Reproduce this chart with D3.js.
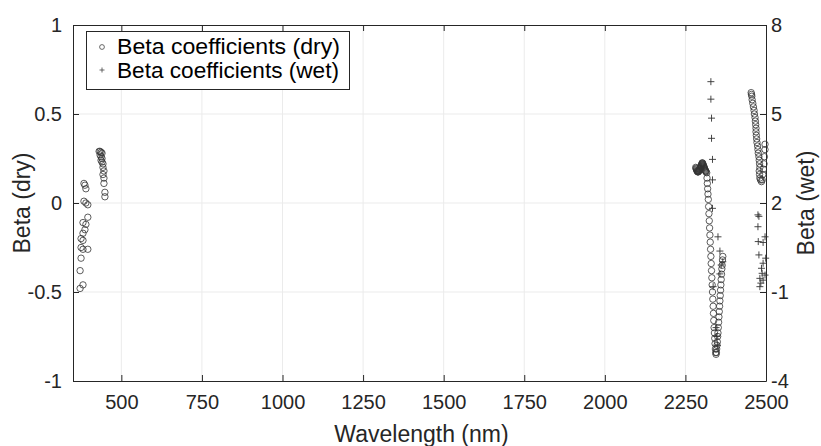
<!DOCTYPE html>
<html>
<head>
<meta charset="utf-8">
<script src="https://cdn.jsdelivr.net/npm/d3@7"></script>
<style>
  html, body { margin: 0; padding: 0; background: #fff; }
  svg { display: block; }
</style>
</head>
<body>
<svg id="chart" width="821" height="446"></svg>
<script>
// Beta coefficients by wavelength (dry samples, left axis)
const dryWavelength = [
  372, 381, 372, 375, 381, 396, 375, 381, 375, 381, 387, 390, 381, 396, 390, 396, 384, 387, 390, 384,
  431, 434, 437, 440, 434, 437, 440, 437, 440, 443, 443, 446, 443, 446, 446, 449, 449,
  2282, 2283, 2284, 2285, 2286, 2287, 2288, 2289, 2290, 2291, 2292, 2293, 2294, 2295, 2296, 2297,
  2298, 2299, 2300, 2301, 2302, 2303, 2304, 2305, 2306, 2307, 2308, 2309, 2310, 2311, 2312, 2313, 2314,
  2316, 2317, 2318, 2319, 2320, 2321, 2322, 2323, 2324, 2325, 2326, 2327, 2328, 2329, 2330, 2331,
  2332, 2333, 2334, 2335, 2336, 2337, 2338, 2339, 2340, 2341, 2342, 2343, 2344,
  2345, 2346, 2347, 2348, 2349, 2350, 2351, 2352, 2353, 2354, 2355, 2356, 2357, 2358, 2359, 2360,
  2361, 2362, 2363, 2364, 2365, 2366,
  2454, 2455, 2456, 2457, 2459, 2461, 2463, 2464, 2466, 2467, 2468, 2469, 2469, 2470, 2471, 2472,
  2474, 2475, 2476, 2478, 2479, 2480, 2481, 2479, 2480, 2481, 2483, 2486, 2488, 2490, 2492, 2494,
  2495, 2497, 2497
];
const dryBeta = [
  -0.48, -0.46, -0.38, -0.31, -0.26, -0.26, -0.25, -0.21, -0.20, -0.17, -0.15, -0.12, -0.11, -0.08, 0.00, -0.01, 0.01, 0.10, 0.08, 0.11,
  0.29, 0.29, 0.285, 0.28, 0.27, 0.26, 0.25, 0.24, 0.23, 0.22, 0.20, 0.18, 0.16, 0.14, 0.11, 0.06, 0.035,
  0.20, 0.195, 0.19, 0.185, 0.18, 0.18, 0.175, 0.175, 0.175, 0.18, 0.18, 0.185, 0.19, 0.19, 0.195, 0.20,
  0.205, 0.21, 0.215, 0.22, 0.225, 0.225, 0.22, 0.215, 0.21, 0.205, 0.20, 0.195, 0.19, 0.185, 0.18, 0.18, 0.175,
  0.17, 0.14, 0.11, 0.08, 0.05, 0.02, -0.02, -0.06, -0.10, -0.14, -0.18, -0.22, -0.26, -0.30, -0.34, -0.38,
  -0.42, -0.46, -0.50, -0.54, -0.58, -0.62, -0.66, -0.70, -0.73, -0.76, -0.79, -0.82, -0.84,
  -0.85, -0.84, -0.82, -0.80, -0.78, -0.75, -0.73, -0.70, -0.67, -0.64, -0.61, -0.58, -0.55, -0.52, -0.49, -0.46,
  -0.43, -0.40, -0.37, -0.35, -0.32, -0.30,
  0.62, 0.61, 0.60, 0.58, 0.56, 0.54, 0.52, 0.50, 0.48, 0.46, 0.44, 0.42, 0.40, 0.38, 0.36, 0.34,
  0.32, 0.30, 0.28, 0.26, 0.24, 0.22, 0.20, 0.18, 0.16, 0.14, 0.13, 0.12, 0.13, 0.16, 0.19, 0.22,
  0.26, 0.30, 0.33
];

// Beta coefficients by wavelength (wet samples, right axis)
const wetWavelength = [
  2329, 2329, 2331, 2331, 2334, 2334, 2334,
  2351, 2357, 2366, 2361, 2357, 2336,
  2345, 2347, 2349,
  2475, 2478, 2475, 2497, 2491, 2476, 2478, 2499, 2491, 2486, 2488, 2497, 2481, 2491, 2484, 2481
];
const wetBeta = [
  6.09, 5.50, 4.86, 4.18, 3.47, 2.78, 1.82,
  0.86, 0.38, 0.02, -0.09, -0.39, -0.82,
  -2.2, -2.5, -2.8,
  1.60, 1.55, 1.20, 0.86, 0.67, 0.70, 0.25, 0.14, -0.03, -0.20, -0.37, -0.43, -0.54, -0.60, -0.70, -0.82
];

const xTicks = [500, 750, 1000, 1250, 1500, 1750, 2000, 2250, 2500];
const yLeftTicks = [-1, -0.5, 0, 0.5, 1];
const yRightTicks = [-4, -1, 2, 5, 8];
const legendLabels = ["Beta coefficients (dry)", "Beta coefficients (wet)"];

const svg = d3.select("#chart");
const plot = { left: 73, right: 766, top: 25, bottom: 381 };
const axisColor = "#262626";
const gridColor = "#ebebeb";
const tickFont = "'Liberation Sans', Arial, sans-serif";

const x = d3.scaleLinear().domain([350, 2500]).range([plot.left, plot.right]);
const yL = d3.scaleLinear().domain([-1, 1]).range([plot.bottom, plot.top]);
const yR = d3.scaleLinear().domain([-4, 8]).range([plot.bottom, plot.top]);

// grid
const grid = svg.append("g");
grid.selectAll("line.gx").data(xTicks.filter(t => t < 2500)).join("line")
  .attr("x1", d => x(d)).attr("x2", d => x(d))
  .attr("y1", plot.top).attr("y2", plot.bottom)
  .attr("stroke", gridColor).attr("stroke-width", 1);
grid.selectAll("line.gy").data(yLeftTicks.filter(t => t > -1 && t < 1)).join("line")
  .attr("x1", plot.left).attr("x2", plot.right)
  .attr("y1", d => yL(d)).attr("y2", d => yL(d))
  .attr("stroke", gridColor).attr("stroke-width", 1);

// axes (ticks point inward, plain hyphen for negatives)
function styleAxis(g) {
  g.attr("font-family", null).attr("font-size", null);
  g.select(".domain").attr("stroke", axisColor);
  g.selectAll(".tick line").attr("stroke", axisColor);
  g.selectAll(".tick text").attr("fill", axisColor)
    .style("font-family", tickFont).style("font-size", "20px");
}
const fmt = d => String(d);

svg.append("g").attr("transform", `translate(0,${plot.bottom})`)
  .call(d3.axisBottom(x).tickValues(xTicks).tickSize(-6).tickSizeOuter(0).tickPadding(14).tickFormat(fmt))
  .call(styleAxis);
svg.append("g").attr("transform", `translate(0,${plot.top})`)
  .call(d3.axisTop(x).tickValues(xTicks).tickSize(-6).tickSizeOuter(0).tickFormat(""))
  .call(styleAxis);
svg.append("g").attr("transform", `translate(${plot.left},0)`)
  .call(d3.axisLeft(yL).tickValues(yLeftTicks).tickSize(-6).tickSizeOuter(0).tickPadding(11).tickFormat(fmt))
  .call(styleAxis);
svg.append("g").attr("transform", `translate(${plot.right},0)`)
  .call(d3.axisRight(yR).tickValues(yRightTicks).tickSize(-6).tickSizeOuter(0).tickPadding(5).tickFormat(fmt))
  .call(styleAxis);

// axis titles
svg.append("text").attr("x", (plot.left + plot.right) / 2 + 2).attr("y", 442)
  .attr("text-anchor", "middle").attr("fill", axisColor)
  .style("font-family", tickFont).style("font-size", "23px").text("Wavelength (nm)");
svg.append("text").attr("transform", `translate(30,${(plot.top + plot.bottom) / 2}) rotate(-90)`)
  .attr("text-anchor", "middle").attr("fill", axisColor)
  .style("font-family", tickFont).style("font-size", "23px").text("Beta (dry)");
svg.append("text").attr("transform", `translate(814,${(plot.top + plot.bottom) / 2}) rotate(-90)`)
  .attr("text-anchor", "middle").attr("fill", axisColor)
  .style("font-family", tickFont).style("font-size", "23px").text("Beta (wet)");

// marks
const dry = dryWavelength.map((w, i) => ({ w, b: dryBeta[i] }));
const wet = wetWavelength.map((w, i) => ({ w, b: wetBeta[i] }));
const marks = svg.append("g");
marks.selectAll("circle").data(dry).join("circle")
  .attr("cx", d => x(d.w)).attr("cy", d => yL(d.b)).attr("r", 3.2)
  .attr("fill", "none").attr("stroke", "#333").attr("stroke-width", 0.8);
const plusSize = 3.5;
marks.selectAll("path.plus").data(wet).join("path").attr("class", "plus")
  .attr("d", d => {
    const cx = x(d.w), cy = yR(d.b);
    return `M${cx - plusSize},${cy}H${cx + plusSize}M${cx},${cy - plusSize}V${cy + plusSize}`;
  })
  .attr("stroke", "#333").attr("stroke-width", 0.9).attr("fill", "none");

// legend
const lg = svg.append("g");
lg.append("rect").attr("x", 86.5).attr("y", 31.5).attr("width", 263).attr("height", 58)
  .attr("fill", "#fff").attr("stroke", axisColor).attr("stroke-width", 1);
lg.append("circle").attr("cx", 102).attr("cy", 47).attr("r", 2.4)
  .attr("fill", "none").attr("stroke", "#444").attr("stroke-width", 0.8);
lg.append("path").attr("d", "M99.5,70H104.5M102,67.5V72.5")
  .attr("stroke", "#444").attr("stroke-width", 0.8);
lg.selectAll("text").data(legendLabels).join("text")
  .attr("x", 117).attr("y", (d, i) => 54 + i * 24)
  .attr("fill", "#000")
  .attr("textLength", (d, i) => i === 0 ? 223 : 222)
  .attr("lengthAdjust", "spacingAndGlyphs")
  .style("font-family", tickFont).style("font-size", "21.5px")
  .text(d => d);
</script>
</body>
</html>
